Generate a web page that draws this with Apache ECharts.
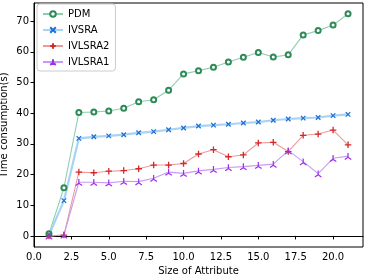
<!DOCTYPE html>
<html><head><meta charset="utf-8">
<script src="https://cdn.jsdelivr.net/npm/echarts@6/dist/echarts.min.js"></script>
<style>html,body{margin:0;padding:0;background:#fff}#c{width:366px;height:278px}</style>
</head><body><div id="c"></div>
<script>
const sizes = [1,2,3,4,5,6,7,8,9,10,11,12,13,14,15,16,17,18,19,20,21];
const pdm = [0.7,15.7,40.2,40.4,40.7,41.6,43.7,44.4,47.5,52.8,53.8,55.0,56.7,58.2,59.8,58.3,59.0,65.5,66.9,68.7,72.4];
const ivsra = [0.2,11.5,31.8,32.3,32.6,33.0,33.6,34.0,34.6,35.2,35.8,36.1,36.4,36.8,37.1,37.7,38.1,38.4,38.6,39.2,39.6];
const ivlsra2 = [0.0,0.3,20.8,20.6,21.1,21.3,21.9,23.1,23.1,23.6,26.7,28.1,25.8,26.4,30.3,30.5,27.5,32.8,33.2,34.5,29.7];
const ivlsra1 = [0.0,0.3,17.5,17.5,17.3,17.8,17.7,18.8,20.8,20.4,21.2,21.7,22.3,22.6,23.0,23.4,27.8,24.2,20.3,25.3,26.0];
const xTicks = [0,2.5,5,7.5,10,12.5,15,17.5,20];
const yTicks = [0,10,20,30,40,50,60,70];

const pair = a => sizes.map((x,i)=>[x,a[i]]);
const font = 'DejaVu Sans';
const xSym = 'path://M0,0L10,10M10,0L0,10';
const plusSym = 'path://M5,0L5,10M0,5L10,5';
const triSym = 'path://M5,5L5,0M5,5L0.67,7.5M5,5L9.33,7.5';

const chart = echarts.init(document.getElementById('c'), null, {renderer:'canvas'});
chart.setOption({
  animation:false,
  textStyle:{fontFamily:font},
  grid:{left:34,right:3,top:3,bottom:31,containLabel:false,outerBoundsMode:'none',show:true,borderColor:'#000',borderWidth:1,backgroundColor:'transparent'},
  legend:{
    left:37,top:4,orient:'vertical',
    backgroundColor:'#fff',borderColor:'#ccc',borderWidth:1,borderRadius:3,
    padding:[5,6,4,5],itemGap:6,itemWidth:20,itemHeight:7,
    textStyle:{fontFamily:font,fontSize:10,color:'#000'},
    data:['PDM','IVSRA','IVLSRA2','IVLSRA1']
  },
  xAxis:{
    type:'value',min:0,max:22,
    name:'Size of Attribute',nameLocation:'middle',nameGap:19,nameMoveOverlap:false,
    nameTextStyle:{fontFamily:font,fontSize:10,color:'#000'},
    axisLine:{show:true,lineStyle:{color:'#000',width:1}},
    axisTick:{show:true,length:3.5,lineStyle:{color:'#000'},customValues:xTicks},
    axisLabel:{color:'#000',fontSize:10,fontFamily:font,margin:5,customValues:xTicks,formatter:v=>v.toFixed(1)},
    splitLine:{show:false}
  },
  yAxis:{
    type:'value',min:-3.6,max:75.9,
    name:'Time consumption(s)',nameLocation:'middle',nameGap:25,nameMoveOverlap:false,
    nameTextStyle:{fontFamily:font,fontSize:10,color:'#000'},
    axisLine:{show:true,lineStyle:{color:'#000',width:1}},
    axisTick:{show:true,length:3.5,lineStyle:{color:'#000'},customValues:yTicks},
    axisLabel:{color:'#000',fontSize:10,fontFamily:font,margin:5,customValues:yTicks},
    splitLine:{show:false}
  },
  series:[
    {name:'PDM',type:'line',data:pair(pdm),symbol:'emptyCircle',symbolSize:5,
     lineStyle:{color:'#8ccfb0',width:1.1},
     itemStyle:{color:'#2e8b57',borderColor:'#2e8b57',borderWidth:1.1}},
    {name:'IVSRA',type:'line',data:pair(ivsra),symbol:xSym,symbolSize:4.5,
     lineStyle:{color:'#a9d3f3',width:2.2},
     itemStyle:{color:'#1f6fd6',borderColor:'#1f6fd6',borderWidth:1.3}},
    {name:'IVLSRA2',type:'line',data:pair(ivlsra2),symbol:plusSym,symbolSize:6.5,
     lineStyle:{color:'#ee9a9a',width:1.1},
     itemStyle:{color:'#d62728',borderColor:'#d62728',borderWidth:1.3}},
    {name:'IVLSRA1',type:'line',data:pair(ivlsra1),symbol:triSym,symbolSize:6.5,
     lineStyle:{color:'#c99af5',width:1.1},
     itemStyle:{color:'#9b30e8',borderColor:'#9b30e8',borderWidth:1.2}}
  ]
});
</script></body></html>
